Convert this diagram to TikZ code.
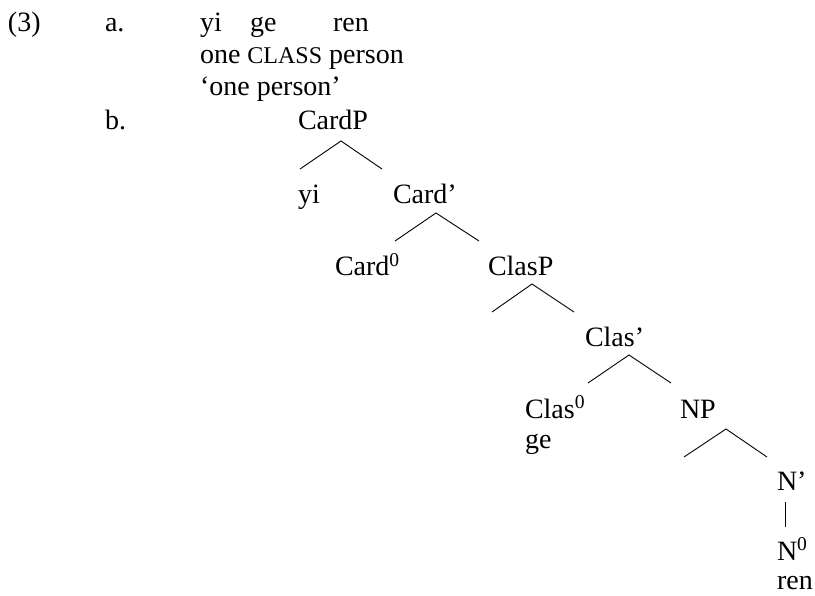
\documentclass[tikz,border=0pt]{standalone}
\usepackage{fontspec}
\setmainfont{Liberation Serif}
\begin{document}
\begin{tikzpicture}[x=1pt,y=-1pt,
  lbl/.style={anchor=base west, inner sep=0pt, outer sep=0pt, font=\fontsize{28}{32}\selectfont},
  branch/.style={draw=black, line width=0.9pt}]
\useasboundingbox (0,0) rectangle (815,596);
% example (3a)
\node[lbl] (num) at (8,32) {(3)};
\node[lbl] (lba) at (105,32) {a.};
\node[lbl] (wyi) at (200,32) {yi};
\node[lbl] (wge) at (250,32) {ge};
\node[lbl] (wren) at (333,32) {ren};
\node[lbl] (gloss) at (200,64) {one {\fontsize{24}{32}\selectfont CLASS} person};
\node[lbl] (trans) at (200,96) {‘one person’};
% example (3b)
\node[lbl] (lbb) at (105,130) {b.};
\node[lbl] (cardp) at (298,130) {CardP};
\node[lbl] (tyi) at (298,204) {yi};
\node[lbl] (cardbar) at (393,204) {Card’};
\node[lbl] (card0) at (335,276) {Card\textsuperscript{0}};
\node[lbl] (clasp) at (488,276) {ClasP};
\node[lbl] (clasbar) at (585,347) {Clas’};
\node[lbl] (clas0) at (525,418) {Clas\textsuperscript{0}};
\node[lbl] (tge) at (525,449) {ge};
\node[lbl] (np) at (680,418) {NP};
\node[lbl] (nbar) at (777,490) {N’};
\node[lbl] (n0) at (777,560) {N\textsuperscript{0}};
\node[lbl] (tren) at (777,589) {ren};
% branch points
\coordinate (t1a) at (341,141); \coordinate (t1l) at (300,169); \coordinate (t1r) at (382,169);
\coordinate (t2a) at (436,213); \coordinate (t2l) at (395,241); \coordinate (t2r) at (479,241);
\coordinate (t3a) at (532,284); \coordinate (t3l) at (492,312); \coordinate (t3r) at (574,312);
\coordinate (t4a) at (629,355); \coordinate (t4l) at (588,383); \coordinate (t4r) at (671,383);
\coordinate (t5a) at (726,429); \coordinate (t5l) at (684,457); \coordinate (t5r) at (767,457);
\coordinate (v1) at (785,502); \coordinate (v2) at (785,527);
\draw[branch] (t1l) -- (t1a) -- (t1r);
\draw[branch] (t2l) -- (t2a) -- (t2r);
\draw[branch] (t3l) -- (t3a) -- (t3r);
\draw[branch] (t4l) -- (t4a) -- (t4r);
\draw[branch] (t5l) -- (t5a) -- (t5r);
\draw[branch] (v1) -- (v2);
\end{tikzpicture}
\end{document}
